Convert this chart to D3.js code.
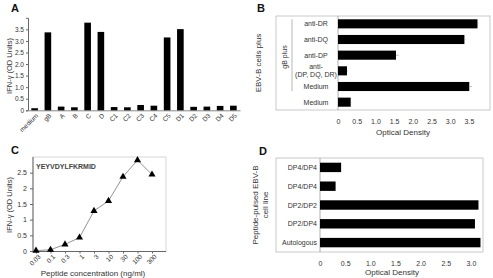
<!DOCTYPE html>
<html><head><meta charset="utf-8">
<script src="https://cdn.jsdelivr.net/npm/d3@7"></script>
<style>
body{margin:0;background:#fff;}
svg{display:block;font-family:"Liberation Sans",Arial,sans-serif;}
</style></head><body>
<svg id="c" width="493" height="278"></svg>
<script>
// ---- Data ----
const aCats = ["medium","gB","A","B","C","D","C1","C2","C3","C4","C5","D1","D2","D3","D4","D5"];
const aValues = [0.09,3.37,0.16,0.13,3.79,3.39,0.14,0.13,0.23,0.2,3.15,3.51,0.15,0.16,0.19,0.2];
const aTicks = [0,0.5,1.0,1.5,2.0,2.5,3.0,3.5];

const bCats = ["anti-DR","anti-DQ","anti-DP","anti-|(DP, DQ, DR)","Medium","Medium "];
const bValues = [3.73,3.38,1.55,0.24,3.51,0.34];
const bErrors = [0.03,0.03,0.08,0.02,0.07,0.02];
const bTicks = [0,0.5,1.0,1.5,2.0,2.5,3.0,3.5];

const cCats = ["0.03","0.1","0.3","1","3","10","30","100","300"];
const cValues = [0.01,0.04,0.21,0.43,1.28,1.6,2.37,2.9,2.44];
const cTicks = [0,0.5,1,1.5,2,2.5];

const dCats = ["DP4/DP4","DP4/DP4 ","DP2/DP2","DP2/DP4","Autologous"];
const dValues = [0.42,0.31,3.15,3.08,3.19];
const dTicks = [0,0.5,1.0,1.5,2.0,2.5,3.0];

const svg = d3.select("#c");
const txt = "#333";
const fmt1 = d => d === 0 ? "0" : d3.format(".1f")(d);

function panelLetter(t, x, y){
  svg.append("text").attr("x",x).attr("y",y).attr("font-size",11).attr("font-weight","bold").attr("fill","#111").text(t);
}

// ---- Panel A ----
panelLetter("A", 11, 12);
{
  const x = d3.scaleBand().domain(aCats).range([28,240]).paddingInner(0.5).paddingOuter(0.25);
  const y = d3.scaleLinear().domain([0,4]).range([110.3,17.8]);
  const g = svg.append("g");
  g.append("g").attr("transform","translate(28,0)")
    .call(d3.axisLeft(y).tickValues(aTicks).tickFormat(fmt1).tickSize(2).tickPadding(2))
    .call(s=>{s.select(".domain").attr("stroke","#666");s.selectAll("line").attr("stroke","#666");
      s.selectAll("text").attr("font-size",6.5).attr("fill",txt).attr("font-family","Liberation Sans, Arial");});
  g.append("g").attr("transform","translate(0,110.3)")
    .call(d3.axisBottom(x).tickSize(0).tickPadding(5))
    .call(s=>{s.select(".domain").attr("stroke","#888");
      s.selectAll("text").attr("font-size",6.5).attr("fill",txt).attr("font-family","Liberation Sans, Arial")
        .attr("text-anchor","end").attr("dy","0.3em").attr("transform","rotate(-45)").attr("dx","-0.2em");});
  g.selectAll("rect.a").data(aValues).join("rect")
    .attr("x",(d,i)=>x(aCats[i])).attr("width",x.bandwidth())
    .attr("y",d=>y(d)).attr("height",d=>y(0)-y(d)).attr("fill","#000");
  svg.append("text").attr("transform","translate(12,66) rotate(-90)").attr("text-anchor","middle")
    .attr("font-size",7.5).attr("fill",txt).text("IFN-γ (OD Units)");
}

// ---- Panel B ----
panelLetter("B", 257, 12);
{
  const box = {l:276, r:490, t:16, b:110};
  const x = d3.scaleLinear().domain([0,4]).range([338,487.6]);
  const y = d3.scaleBand().domain(bCats).range([box.t,box.b]).paddingInner(0.42).paddingOuter(0.21);
  svg.append("rect").attr("x",box.l).attr("y",box.t).attr("width",box.r-box.l).attr("height",box.b-box.t)
    .attr("fill","none").attr("stroke","#bbb").attr("stroke-width",0.8);
  svg.append("line").attr("x1",x(0)).attr("x2",x(0)).attr("y1",box.t).attr("y2",box.b).attr("stroke","#999").attr("stroke-width",0.8);
  const ax = svg.append("g").attr("transform",`translate(0,${box.b})`)
    .call(d3.axisBottom(x).tickValues(bTicks).tickFormat(fmt1).tickSize(0).tickPadding(9));
  ax.select(".domain").remove();
  ax.selectAll("text").attr("font-size",7).attr("fill",txt).attr("font-family","Liberation Sans, Arial");
  svg.selectAll("rect.b").data(bValues).join("rect")
    .attr("x",x(0)).attr("y",(d,i)=>y(bCats[i])).attr("height",y.bandwidth())
    .attr("width",d=>x(d)-x(0)).attr("fill","#000");
  svg.selectAll("line.be").data(bValues).join("line")
    .attr("x1",d=>x(d)).attr("x2",(d,i)=>x(d+bErrors[i]))
    .attr("y1",(d,i)=>y(bCats[i])+y.bandwidth()/2).attr("y2",(d,i)=>y(bCats[i])+y.bandwidth()/2)
    .attr("stroke","#aaa").attr("stroke-width",0.8);
  bCats.forEach((c,i)=>{
    const lines = c.trim().split("|");
    const cy = y(c)+y.bandwidth()/2;
    const t = svg.append("text").attr("x",316).attr("text-anchor","middle").attr("font-size",7).attr("fill",txt);
    lines.forEach((ln,j)=>{
      t.append("tspan").attr("x",316).attr("y",cy+2.5+(j-(lines.length-1)/2)*8).text(ln);
    });
  });
  // group bracket
  svg.append("line").attr("x1",292).attr("x2",292).attr("y1",y(bCats[0])).attr("y2",y(bCats[4])+y.bandwidth())
    .attr("stroke","#999").attr("stroke-width",0.7);
  svg.append("text").attr("transform","translate(287,57) rotate(-90)").attr("text-anchor","middle")
    .attr("font-size",7).attr("fill",txt).text("gB plus");
  svg.append("text").attr("transform","translate(261,63) rotate(-90)").attr("text-anchor","middle")
    .attr("font-size",8).attr("fill",txt).text("EBV-B cells plus");
  svg.append("text").attr("x",(box.l+box.r)/2+20).attr("y",135).attr("text-anchor","middle")
    .attr("font-size",8).attr("fill",txt).text("Optical Density");
}

// ---- Panel C ----
panelLetter("C", 11, 154);
{
  const box = {l:33, r:166, t:157, b:251.5};
  const x = d3.scalePoint().domain(cCats).range([36,152]);
  const y = d3.scaleLinear().domain([0,3]).range([251,157]);
  svg.append("rect").attr("x",box.l).attr("y",box.t).attr("width",box.r-box.l).attr("height",box.b-box.t)
    .attr("fill","none").attr("stroke","#ccc").attr("stroke-width",0.8);
  const ay = svg.append("g").attr("transform",`translate(${box.l},0)`)
    .call(d3.axisLeft(y).tickValues(cTicks).tickFormat(d3.format("")).tickSize(3).tickSizeOuter(0));
  ay.select(".domain").attr("stroke","#666").attr("d",`M0,${box.b}V${box.t}`);
  ay.selectAll("line").attr("stroke","#666");
  ay.selectAll("text").attr("font-size",7).attr("fill",txt).attr("font-family","Liberation Sans, Arial");
  const ax = svg.append("g").attr("transform",`translate(0,${box.b})`)
    .call(d3.axisBottom(x).tickSize(2).tickPadding(3));
  ax.select(".domain").attr("stroke","#666").attr("d",`M${box.l},0H${box.r}`);
  ax.selectAll("line").attr("stroke","#666");
  ax.selectAll("text").attr("font-size",6.5).attr("fill",txt).attr("font-family","Liberation Sans, Arial")
    .attr("text-anchor","end").attr("dy","0.35em").attr("dx","-0.1em").attr("transform","rotate(-45)");
  const line = d3.line().x((d,i)=>x(cCats[i])).y(d=>y(d));
  svg.append("path").datum(cValues).attr("d",line).attr("fill","none").attr("stroke","#777").attr("stroke-width",0.8);
  svg.selectAll("path.pt").data(cValues).join("path")
    .attr("d",d3.symbol(d3.symbolTriangle,22))
    .attr("transform",(d,i)=>`translate(${x(cCats[i])},${y(d)})`).attr("fill","#000");
  svg.append("text").attr("x",36).attr("y",169).attr("font-size",7).attr("font-weight","bold").attr("fill","#444").text("YEYVDYLFKRMID");
  svg.append("text").attr("transform","translate(12,205) rotate(-90)").attr("text-anchor","middle")
    .attr("font-size",7.5).attr("fill",txt).text("IFN-γ (OD Units)");
  svg.append("text").attr("x",93).attr("y",275.5).attr("text-anchor","middle")
    .attr("font-size",8).attr("fill",txt).text("Peptide concentration (ng/ml)");
}

// ---- Panel D ----
panelLetter("D", 259, 155);
{
  const box = {l:276, r:483, t:158, b:252};
  const x = d3.scaleLinear().domain([0,3.25]).range([320,483.5]);
  const y = d3.scaleBand().domain(dCats).range([box.t,box.b]).paddingInner(0.5).paddingOuter(0.25);
  svg.append("rect").attr("x",box.l).attr("y",box.t).attr("width",box.r-box.l).attr("height",box.b-box.t)
    .attr("fill","none").attr("stroke","#bbb").attr("stroke-width",0.8);
  svg.append("line").attr("x1",x(0)).attr("x2",x(0)).attr("y1",box.t).attr("y2",box.b).attr("stroke","#999").attr("stroke-width",0.8);
  const ax = svg.append("g").attr("transform",`translate(0,${box.b})`)
    .call(d3.axisBottom(x).tickValues(dTicks).tickFormat(fmt1).tickSize(0).tickPadding(9));
  ax.select(".domain").remove();
  ax.selectAll("text").attr("font-size",7).attr("fill",txt).attr("font-family","Liberation Sans, Arial");
  svg.selectAll("rect.d").data(dValues).join("rect")
    .attr("x",x(0)).attr("y",(d,i)=>y(dCats[i])).attr("height",y.bandwidth())
    .attr("width",d=>x(d)-x(0)).attr("fill","#000");
  dCats.forEach(c=>{
    svg.append("text").attr("x",317).attr("y",y(c)+y.bandwidth()/2+2.5).attr("text-anchor","end")
      .attr("font-size",7).attr("fill",txt).text(c.trim());
  });
  const t = svg.append("text").attr("transform","translate(258,205) rotate(-90)").attr("text-anchor","middle")
    .attr("font-size",8).attr("fill",txt);
  t.append("tspan").attr("x",0).attr("y",0).text("Peptide-pulsed EBV-B");
  t.append("tspan").attr("x",0).attr("y",10).text("cell line");
  svg.append("text").attr("x",392).attr("y",275).attr("text-anchor","middle")
    .attr("font-size",8).attr("fill",txt).text("Optical Density");
}
</script>
</body></html>
